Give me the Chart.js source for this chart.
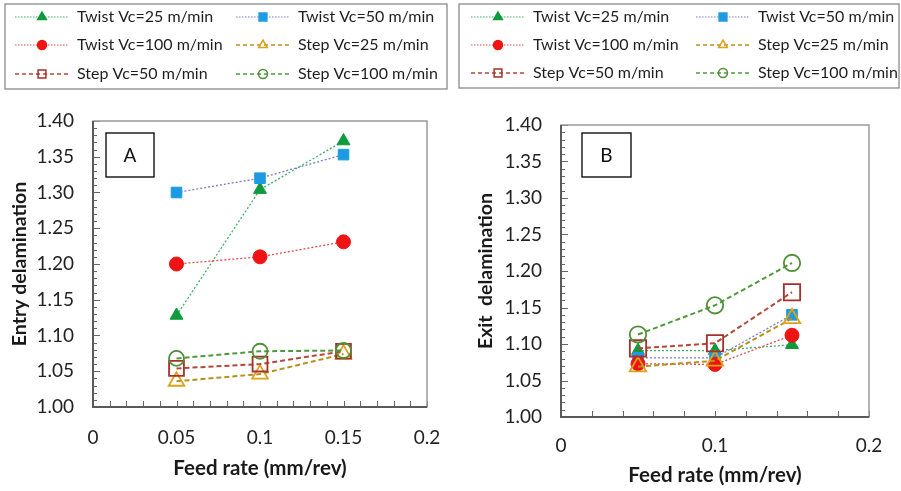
<!DOCTYPE html>
<html lang="en">
<head>
<meta charset="UTF-8">
<title>Entry and exit delamination vs feed rate</title>
<script src="https://cdn.jsdelivr.net/npm/chart.js@4"></script>
<style>
  body { margin: 0; background: #fff; }
  .wrap { position: relative; width: 901px; height: 491px; }
  canvas { position: absolute; top: 0; }
  #chartA { left: 0; }
  #chartB { left: 450px; }
</style>
</head>
<body>
<div class="wrap">
  <canvas id="chartA" width="450" height="491"></canvas>
  <canvas id="chartB" width="451" height="491"></canvas>
</div>
<script>
// feed rate (mm/rev)
const feedRates = [0.05, 0.1, 0.15];
const seriesNames = ['Twist Vc=25 m/min', 'Twist Vc=50 m/min', 'Twist Vc=100 m/min',
                     'Step Vc=25 m/min', 'Step Vc=50 m/min', 'Step Vc=100 m/min'];

// A - entry delamination
const entryTwist25 = [1.128, 1.304, 1.372];
const entryTwist50 = [1.30, 1.32, 1.353];
const entryTwist100 = [1.20, 1.21, 1.231];
const entryStep25 = [1.036, 1.046, 1.074];
const entryStep50 = [1.054, 1.06, 1.078];
const entryStep100 = [1.068, 1.078, 1.079];

// B - exit delamination
const exitTwist25 = [1.091, 1.091, 1.099];
const exitTwist50 = [1.081, 1.081, 1.14];
const exitTwist100 = [1.073, 1.072, 1.112];
const exitStep25 = [1.069, 1.077, 1.135];
const exitStep50 = [1.094, 1.101, 1.171];
const exitStep100 = [1.113, 1.153, 1.211];

const yTicks = [1.00, 1.05, 1.10, 1.15, 1.20, 1.25, 1.30, 1.35, 1.40];

// styles
const lineColors = ['#3fae63', '#7b7bcf', '#e5484a', '#b98f1c', '#b4483a', '#4f9a3c'];
const markerFills = ['#0f9a3c', '#1d9be2', '#ee1414', 'rgba(0,0,0,0)', 'rgba(0,0,0,0)', 'rgba(0,0,0,0)'];
const markerEdges = ['#0f9a3c', '#1d9be2', '#ee1414', '#dca21a', '#a8302a', '#4f8f37'];
const markerStyles = ['triangle', 'rect', 'circle', 'triangle', 'rect', 'circle'];
const radiiA = [7.5, 7.5, 7, 9, 10.5, 7.5];
const radiiB = [7.5, 7.5, 7, 9.5, 11.5, 8.2];
const legendRadii = [5, 5.5, 4.5, 5, 5.5, 4.5];

function marker(ctx, style, x, y, r, fill, edge, lw) {
  ctx.beginPath();
  if (style === 'circle') {
    ctx.arc(x, y, r, 0, Math.PI * 2);
  } else if (style === 'rect') {
    const s = r * Math.SQRT1_2;
    ctx.rect(x - s, y - s, 2 * s, 2 * s);
  } else {
    for (let k = 0; k < 3; k++) {
      const ang = k * 2 * Math.PI / 3;
      const px = x + Math.sin(ang) * r, py = y - Math.cos(ang) * r;
      if (k) ctx.lineTo(px, py); else ctx.moveTo(px, py);
    }
    ctx.closePath();
  }
  ctx.fillStyle = fill;
  ctx.fill();
  ctx.lineWidth = lw;
  ctx.strokeStyle = edge;
  ctx.stroke();
}

// frame, inward ticks, legend box and panel letter
const panelDecor = {
  id: 'panelDecor',
  beforeDatasetsDraw(chart, args, o) {
    const {ctx, chartArea: a, scales: {x, y}} = chart;
    ctx.save();
    ctx.strokeStyle = '#666';
    ctx.lineWidth = 1;
    for (let k = 0; k <= 40; k++) {
      const py = Math.round(y.getPixelForValue(1 + k * 0.01)) + 0.5;
      ctx.beginPath();
      ctx.moveTo(a.left, py);
      ctx.lineTo(a.left + (k % 5 ? 4 : 7), py);
      ctx.stroke();
    }
    for (let k = 0; k <= o.xCount; k++) {
      const px = Math.round(x.getPixelForValue(k * o.xMinor)) + 0.5;
      ctx.beginPath();
      ctx.moveTo(px, a.bottom);
      ctx.lineTo(px, a.bottom - 6);
      ctx.stroke();
    }
    ctx.strokeStyle = '#9a9a9a';
    ctx.lineWidth = 1.5;
    ctx.strokeRect(a.left, a.top, a.right - a.left, a.bottom - a.top);
    ctx.strokeStyle = '#5a5a5a';
    ctx.lineWidth = 2;
    ctx.beginPath();
    ctx.moveTo(a.left, a.top);
    ctx.lineTo(a.left, a.bottom);
    ctx.lineTo(a.right, a.bottom);
    ctx.stroke();
    ctx.restore();
  },
  afterDraw(chart, args, o) {
    const ctx = chart.ctx;
    const L = o.legend;
    ctx.save();
    ctx.strokeStyle = '#8a8a8a';
    ctx.lineWidth = 1.3;
    ctx.strokeRect(L.x, L.y, L.w, L.h);
    ctx.font = '16px Lato';
    ctx.textBaseline = 'middle';
    chart.data.datasets.forEach((ds, i) => {
      const x0 = L.cols[i % 2], cy = L.rows[Math.floor(i / 2)];
      ctx.setLineDash(i < 3 ? [1.5, 1.5] : [4, 3]);
      ctx.strokeStyle = ds.borderColor;
      ctx.lineWidth = i < 3 ? 1.2 : 1.6;
      ctx.beginPath();
      ctx.moveTo(x0, cy);
      ctx.lineTo(x0 + 54, cy);
      ctx.stroke();
      ctx.setLineDash([]);
      marker(ctx, ds.pointStyle, x0 + 27, cy, legendRadii[i], ds.pointBackgroundColor, ds.pointBorderColor, 1.5);
      ctx.fillStyle = '#1e1e1e';
      ctx.fillText(ds.label, x0 + 62, cy);
    });
    const B = o.letter;
    ctx.strokeStyle = '#111';
    ctx.lineWidth = 1.4;
    ctx.strokeRect(B.x, B.y, B.w, B.h);
    ctx.fillStyle = '#111';
    ctx.font = '19px Lato';
    ctx.textAlign = 'center';
    ctx.fillText(B.text, B.x + B.w / 2, B.y + B.h / 2 + 1);
    ctx.restore();
  }
};

function buildPanel(id, series, p) {
  const datasets = series.map((vals, i) => ({
    label: seriesNames[i],
    data: feedRates.map((fr, j) => ({x: fr, y: vals[j]})),
    borderColor: lineColors[i],
    borderWidth: i < 3 ? 1.3 : 2,
    borderDash: i < 3 ? [2, 2] : [5, 3],
    pointStyle: markerStyles[i],
    pointRadius: p.radii[i],
    pointHoverRadius: p.radii[i],
    pointBackgroundColor: markerFills[i],
    pointBorderColor: markerEdges[i],
    pointBorderWidth: i < 3 ? 1 : 1.8,
    order: 6 - i
  }));
  return new Chart(document.getElementById(id), {
    type: 'line',
    data: {datasets},
    plugins: [panelDecor],
    options: {
      responsive: false,
      animation: false,
      layout: {padding: {top: p.top, right: p.right, left: 0, bottom: 0}},
      plugins: {
        legend: {display: false},
        tooltip: {enabled: false},
        panelDecor: {xMinor: p.xMinor, xCount: p.xCount, legend: p.legend, letter: p.letter}
      },
      scales: {
        x: {
          type: 'linear', min: 0, max: 0.2,
          grid: {display: false, drawTicks: false},
          border: {display: false},
          ticks: {
            stepSize: p.xStep, padding: p.xPad, color: '#222',
            font: {family: 'Lato', size: 19},
            callback: v => String(+v.toFixed(2))
          },
          title: {display: true, text: 'Feed rate (mm/rev)', color: '#1a1a1a',
                  font: {family: 'Lato', size: 20.5, weight: 'bold'}, padding: {top: 0, bottom: p.xTitlePad}},
          afterFit: s => { s.height = p.xHeight; s.paddingLeft = 0; s.paddingRight = 0; }
        },
        y: {
          min: 1, max: 1.4,
          afterBuildTicks: s => { s.ticks = yTicks.map(v => ({value: v})); },
          grid: {display: false, drawTicks: false},
          border: {display: false},
          ticks: {
            padding: 19, color: '#222',
            font: {family: 'Lato', size: 19},
            callback: v => v.toFixed(2)
          },
          title: {display: true, text: p.yTitle, color: '#1a1a1a',
                  font: {family: 'Lato', size: 19.5, weight: 'bold'}, padding: {top: p.yTitlePad, bottom: 0}},
          afterFit: s => { s.width = p.yWidth; }
        }
      }
    }
  });
}

buildPanel('chartA',
  [entryTwist25, entryTwist50, entryTwist100, entryStep25, entryStep50, entryStep100],
  {
    top: 121, right: 23, yWidth: 93, xHeight: 84, radii: radiiA,
    xStep: 0.05, xMinor: 0.01, xCount: 20, xPad: 19, xTitlePad: 10,
    yTitle: 'Entry delamination', yTitlePad: 8,
    legend: {x: 5, y: 4, w: 442, h: 85, cols: [15, 236], rows: [17, 45, 74]},
    letter: {x: 106, y: 133, w: 48, h: 44, text: 'A'}
  });

buildPanel('chartB',
  [exitTwist25, exitTwist50, exitTwist100, exitStep25, exitStep50, exitStep100],
  {
    top: 125, right: 32, yWidth: 111, xHeight: 74, radii: radiiB,
    xStep: 0.1, xMinor: 0.02, xCount: 10, xPad: 17, xTitlePad: 3,
    yTitle: 'Exit  delamination', yTitlePad: 24,
    legend: {x: 9, y: 4, w: 440, h: 84, cols: [21, 246], rows: [17, 45, 73]},
    letter: {x: 132, y: 133, w: 49, h: 44, text: 'B'}
  });
</script>
</body>
</html>
